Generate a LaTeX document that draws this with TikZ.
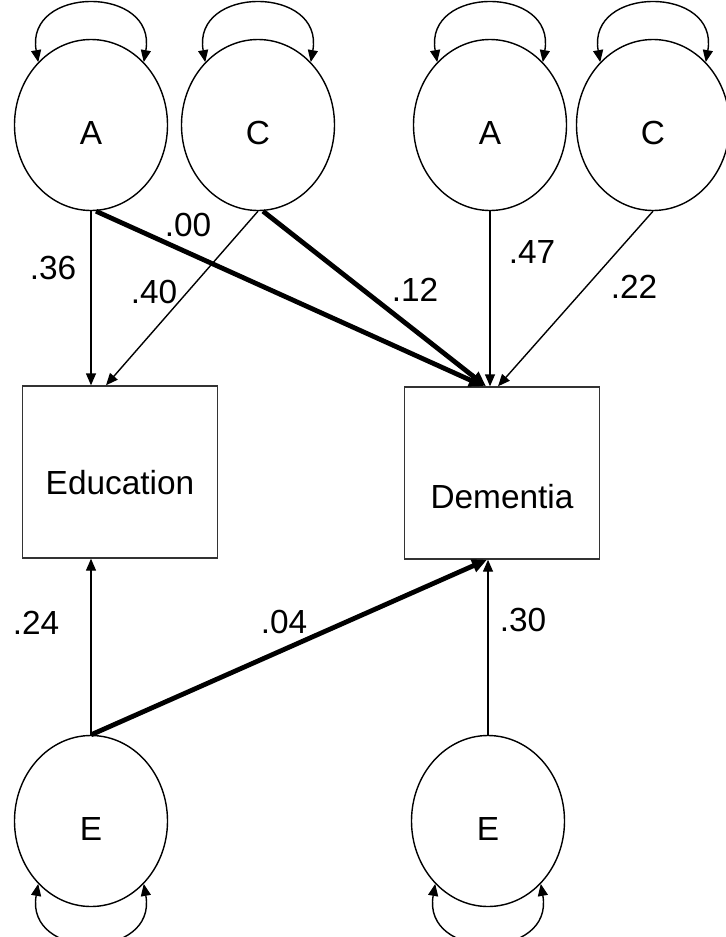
\documentclass[tikz,border=0pt]{standalone}
\usepackage{fontspec}
\setmainfont{Liberation Sans}
\usetikzlibrary{arrows.meta,shapes.geometric}
\tikzset{
  latent/.style={ellipse, draw, line width=0.7pt, minimum width=76.5pt, minimum height=85.5pt, inner sep=0pt, text height=19pt, text depth=0pt},
  observed/.style={rectangle, draw=black!80, line width=0.7pt, minimum width=97.5pt, minimum height=86pt},
  effect/.style={-{Triangle[length=6pt,width=5pt]}, line width=0.7pt},
  bigeffect/.style={-{Triangle[length=7.5pt,width=6.5pt]}, line width=2.4pt},
  variance/.style={{Triangle[length=6pt,width=5pt]}-{Triangle[length=6pt,width=5pt]}, line width=0.7pt, looseness=1.9},
  coef/.style={inner sep=0pt}
}
\begin{document}
\begin{tikzpicture}[x=0.5pt,y=-0.5pt,font=\fontsize{16.7}{20}\selectfont]
      \useasboundingbox (0,0) rectangle (726,937);
      % latent factors
      \node[latent] (A1) at (91,125) {A};
      \node[latent] (C1) at (258,125) {C};
      \node[latent] (A2) at (490,125) {A};
      \node[latent] (C2) at (653,125) {C};
      \node[latent] (E1) at (91,821) {E};
      \node[latent] (E2) at (488,821) {E};
      % measured traits
      \node[observed, text height=22.5pt, text depth=0pt] (edu) at (120,472) {Education};
      \node[observed, text height=35pt, text depth=0pt] (dem) at (502,473) {Dementia};
      % variances
      \foreach \f in {A1,C1,A2,C2}
        \draw[variance] (\f.130) to[out=100,in=80] (\f.50);
      \foreach \f in {E1,E2}
        \draw[variance] (\f.230) to[out=-100,in=-80] (\f.310);
      % paths
      \draw[effect] (A1.south) -- (A1.south |- edu.north);
      \draw[effect] (C1.south) -- ([xshift=-7pt]edu.north);
      \draw[effect] (A2.south) -- (A2.south |- dem.north);
      \draw[effect] (C2.south) -- ([xshift=-2pt]dem.north);
      \draw[effect] (E1.north) -- (E1.north |- edu.south);
      \draw[effect] (E2.north) -- (E2.north |- dem.south);
      \draw[bigeffect] ([xshift=2.5pt]A1.south) -- ([xshift=-9pt]dem.north);
      \draw[bigeffect] ([xshift=2.5pt]C1.south) -- ([xshift=-8pt]dem.north);
      \draw[bigeffect] (E1.north) -- ([xshift=-7.5pt]dem.south);
      % coefficients
      \foreach \name/\val/\x/\y in {c1/.36/53/268, c2/.00/188/225, c3/.40/154/292, c4/.12/415/290, c5/.47/532/252, c6/.22/634/287, c7/.24/36/623, c8/.04/284/622, c9/.30/523/620}
        \node[coef] (\name) at (\x,\y) {\val};
\end{tikzpicture}
\end{document}
